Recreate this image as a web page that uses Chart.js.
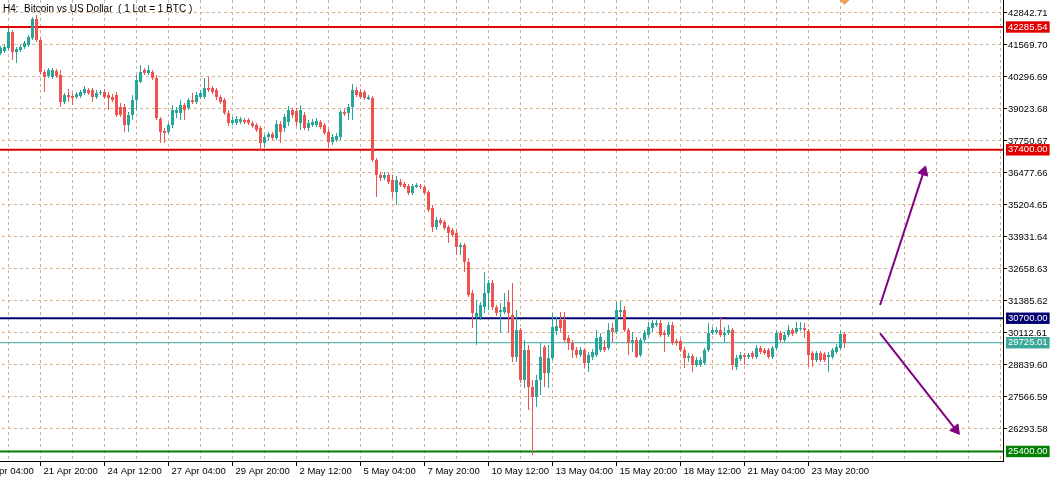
<!DOCTYPE html>
<html>
<head>
<meta charset="utf-8">
<script src="https://cdn.jsdelivr.net/npm/chart.js@4.4.0/dist/chart.umd.min.js"></script>
<style>
  body { margin: 0; background: #fff; }
  #wrap { position: relative; width: 1057px; height: 482px; overflow: hidden; background: #fff; }
  #c { position: absolute; left: -40px; top: 0; }
  #title { position: absolute; left: 3px; top: 3px; font: 10px "Liberation Sans", Arial, sans-serif; line-height: 12px; color: #000; white-space: pre; }
</style>
</head>
<body>
<div id="wrap">
  <canvas id="c" width="1097" height="482"></canvas>
  <div id="title">H4:  Bitcoin vs US Dollar  ( 1 Lot = 1 BTC )</div>
</div>
<script>
// ---------- Data (H4 candles) ----------

// first candle's bar number; bar 0 is 20 Apr 12:00
const firstBar = -2;

const opens = [
  41252, 41331, 41451, 42087, 41291, 41371, 41490, 41570, 41848, 42604,
  41769, 40496, 40337, 40297, 40536, 40377, 39302, 39581, 39541, 39501,
  39541, 39660, 39780, 39780, 39501, 39660, 39700, 39581, 39501, 39581,
  39104, 39104, 38388, 38785, 39382, 40098, 40575, 40456, 40496, 40257,
  38626, 38149, 38109, 38388, 38865, 38865, 39183, 39064, 39382, 39302,
  39501, 39501, 39859, 39859, 39780, 39501, 39382, 38865, 38467, 38467,
  38507, 38586, 38586, 38467, 38388, 38268, 37672, 37910, 38030, 37870,
  38427, 38268, 38507, 38984, 38944, 38467, 38785, 38268, 38388, 38388,
  38507, 38388, 38109, 37711, 37791, 37910, 38905, 38865, 39104, 39780,
  39700, 39700, 39422, 39462, 36995, 36398, 36279, 36398, 36200, 35722,
  36120, 36040, 35961, 35682, 35921, 35961, 35921, 35722, 35086, 34330,
  34608, 34529, 34330, 34211, 34091, 33534, 33614, 32938, 31704, 30750,
  30750, 31148, 31704, 32102, 31148, 30949, 30949, 31346, 30830, 29159,
  30233, 28244, 29437, 27965, 27567, 28244, 29556, 28522, 29119, 30193,
  30630, 30630, 29914, 29715, 29437, 29238, 29437, 28920, 29159, 29238,
  29437, 29556, 29517, 30312, 30153, 30949, 31028, 30233, 29715, 29835,
  29238, 29835, 30034, 30312, 30431, 30511, 30113, 30034, 30431, 29795,
  29795, 29437, 29119, 29198, 28840, 28840, 28920, 29437, 30113, 30153,
  30233, 30034, 30113, 30233, 28761, 29079, 29238, 29159, 29318, 29159,
  29517, 29437, 29437, 29159, 29517, 30113, 29835, 30034, 30233, 30153,
  30272, 30312, 30193, 29318, 29039, 29318, 29278, 29159, 29159, 29357,
  29517, 30074
];

const highs = [
  41530, 41610, 42246, 42167, 41490, 41570, 41729, 41968, 42684, 42763,
  41848, 40575, 40655, 40655, 40615, 40575, 39660, 39820, 39660, 39700,
  39780, 39939, 39859, 39859, 39780, 39780, 39820, 39700, 39621, 39700,
  39263, 39223, 38905, 39581, 40377, 40774, 40655, 40774, 40575, 40377,
  38706, 38268, 38467, 39183, 39104, 39382, 39263, 39462, 39660, 39700,
  39780, 40257, 40297, 39939, 39859, 39581, 39462, 38984, 38706, 38746,
  38706, 38666, 38666, 38547, 38467, 38348, 37990, 38109, 38109, 38586,
  38547, 38825, 39143, 39064, 39064, 39183, 38905, 38586, 38626, 38666,
  38586, 38467, 38228, 38030, 38069, 38984, 39024, 39223, 40019, 39899,
  39820, 39780, 39581, 39541, 37075, 36518, 36518, 36478, 36398, 36359,
  36239, 36120, 36040, 36040, 36080, 36040, 36001, 35802, 35205, 34728,
  34688, 34608, 34409, 34290, 34211, 33693, 33693, 33097, 31824, 31426,
  31346, 32540, 32222, 32222, 31227, 31307, 31704, 31824, 32102, 31028,
  30312, 29835, 29636, 28244, 28443, 29715, 29636, 29636, 30909, 30750,
  30949, 30949, 30034, 29835, 29556, 29556, 29517, 29357, 29477, 30233,
  30113, 29835, 30511, 30511, 31346, 31386, 31187, 30312, 30153, 29954,
  29914, 30233, 30551, 30630, 30630, 30630, 30233, 30551, 30551, 29875,
  29875, 29556, 29318, 29278, 29159, 29159, 29517, 30511, 30352, 30352,
  30710, 30352, 30431, 30312, 29238, 29357, 29318, 29318, 29397, 29636,
  29596, 29517, 29517, 29596, 30233, 30193, 30153, 30431, 30312, 30551,
  30551, 30511, 30272, 29397, 29397, 29397, 29357, 29357, 29517, 29676,
  30233, 30153
];

const lows = [
  41172, 41252, 41371, 40973, 40854, 41291, 41411, 41490, 41769, 41689,
  40416, 39700, 40257, 40217, 40257, 39104, 39223, 39302, 39183, 39422,
  39462, 39581, 39581, 39302, 39422, 39581, 39422, 38984, 39302, 38706,
  38706, 38109, 38109, 38586, 38984, 40058, 40377, 40377, 40178, 38586,
  37672, 37672, 38030, 38268, 38666, 38586, 38586, 38984, 39223, 39223,
  39422, 39422, 39700, 39621, 39382, 39223, 38785, 38348, 38388, 38388,
  38427, 38427, 38388, 38268, 38109, 37393, 37473, 37791, 37791, 37791,
  37672, 38109, 38348, 38666, 38348, 38189, 38189, 38149, 38308, 38308,
  38228, 37990, 37473, 37592, 37711, 37791, 38746, 38586, 38586, 39501,
  39422, 39382, 39382, 36916, 35523, 36160, 36200, 36040, 35484, 35205,
  35921, 35842, 35603, 35603, 35881, 35842, 35603, 34927, 34131, 34211,
  34409, 34211, 33693, 33932, 33216, 33216, 32540, 31545, 30312, 29636,
  30630, 30909, 31028, 31028, 30790, 30113, 30869, 30113, 28960, 28960,
  28124, 27925, 27050, 25260, 27169, 27647, 27965, 27925, 29039, 30034,
  30153, 29755, 29437, 29119, 29119, 29159, 28721, 28562, 29039, 29159,
  29357, 29357, 29437, 29755, 30074, 30710, 30153, 29238, 29357, 29119,
  29159, 29755, 29954, 30153, 30352, 29954, 29357, 29954, 29636, 29596,
  29357, 28721, 28960, 28562, 28761, 28761, 28840, 29357, 30034, 30074,
  29954, 29755, 30034, 28641, 28641, 28999, 28840, 29079, 29079, 29079,
  29278, 29238, 29079, 29079, 29437, 29755, 29755, 29954, 29994, 30074,
  30193, 29914, 28761, 28761, 28960, 28960, 28960, 28562, 29079, 29278,
  29437, 29517
];

const closes = [
  41451, 41490, 42087, 41291, 41411, 41490, 41649, 41888, 42604, 41769,
  40496, 40297, 40575, 40575, 40337, 39302, 39581, 39501, 39462, 39621,
  39700, 39820, 39660, 39501, 39660, 39700, 39501, 39462, 39382, 38785,
  38785, 38388, 38785, 39382, 40178, 40496, 40456, 40575, 40257, 38666,
  38109, 38069, 38388, 38984, 38984, 39183, 38984, 39382, 39302, 39581,
  39660, 39859, 39780, 39700, 39501, 39302, 38865, 38467, 38586, 38626,
  38626, 38507, 38467, 38348, 38189, 37672, 37910, 38030, 37870, 38427,
  38109, 38706, 38984, 38785, 38507, 38984, 38268, 38467, 38507, 38547,
  38308, 38069, 37711, 37910, 37950, 38905, 38825, 39104, 39780, 39581,
  39501, 39462, 39501, 36995, 36398, 36279, 36398, 36120, 35722, 36200,
  36001, 35921, 35682, 35961, 36001, 35921, 35682, 35006, 34330, 34608,
  34489, 34290, 34091, 34012, 33534, 33614, 32938, 31625, 30909, 30909,
  31227, 31704, 32102, 31148, 30909, 31028, 31148, 30909, 29159, 30233,
  28244, 29437, 27965, 27567, 28244, 29159, 28522, 29119, 30352, 30392,
  30312, 29835, 29715, 29437, 29238, 29437, 28920, 29238, 29357, 29914,
  29954, 29437, 30233, 30153, 31028, 31028, 30233, 29715, 29835, 29159,
  29835, 30113, 30352, 30511, 30511, 30034, 30034, 30431, 29715, 29715,
  29437, 29119, 29198, 28840, 29039, 29039, 29437, 30113, 30233, 30233,
  30034, 30113, 30233, 28840, 29119, 29238, 29159, 29238, 29159, 29517,
  29357, 29318, 29159, 29517, 30113, 29835, 30034, 30233, 30074, 30312,
  30312, 30233, 29238, 29039, 29318, 29039, 29039, 29238, 29437, 29556,
  30074, 29725.01
];

// price axis
const yTickValues = [
  42842.71, 41569.70, 40296.69, 39023.68, 37750.67, 36477.66, 35204.65,
  33931.64, 32658.63, 31385.62, 30112.61, 28839.60, 27566.59, 26293.58
];
const yMin = 25020.57;
const yMax = 43359.87;

// horizontal levels (support / resistance, last bid)
const levelValues = [42285.54, 37400.00, 30700.00, 29725.01, 25400.00];

// time axis
const xMin = -12.125;
const xMax = 248.625;
const gridStep = 8;
const xLabelBars = [-8, 8, 24, 40, 56, 72, 88, 104, 120, 136, 152, 168, 184, 200];
const xLabels = [
  '19 Apr 04:00', '21 Apr 20:00', '24 Apr 12:00', '27 Apr 04:00', '29 Apr 20:00',
  '2 May 12:00', '5 May 04:00', '7 May 20:00', '10 May 12:00', '13 May 04:00',
  '15 May 20:00', '18 May 12:00', '21 May 04:00', '23 May 20:00'
];

// drawn objects: two scenario arrows and the trade marker
const arrowUp = [{ x: 217.9, y: 31227 }, { x: 228.8, y: 36530 }];
const arrowDown = [{ x: 217.9, y: 30101 }, { x: 236.8, y: 26270 }];
const marker = [{ x: 209, y: 43359.87 }];

// ---------- Styles ----------

const BULL = '#26a69a';
const BEAR = '#ef5350';
const GRID = '#d4b08e';
const PURPLE = '#800080';
const NONE = 'rgba(0,0,0,0)';
const levelStyle = [
  { color: '#e00000', width: 2 },
  { color: '#e00000', width: 2 },
  { color: '#000070', width: 2 },
  { color: '#3aa79b', width: 1 },
  { color: '#008000', width: 2 }
];

// ---------- Helpers ----------

function levelIndex(ctx) {
  if (!ctx || !ctx.tick) return -1;
  return levelValues.indexOf(ctx.tick.value);
}

function xLabelFor(value) {
  const i = xLabelBars.indexOf(value);
  return i >= 0 ? xLabels[i] : '';
}

function zeroPadding(scale) {
  scale.paddingLeft = 0;
  scale.paddingRight = 0;
  scale.paddingTop = 0;
  scale.paddingBottom = 0;
}

// ---------- Chart ----------

Chart.defaults.font.family = '"Liberation Sans", Arial, sans-serif';
Chart.defaults.font.size = 9.5;
Chart.defaults.color = '#000';

const bars = opens.map((_, i) => firstBar + i);
const candleColors = opens.map((o, i) => (closes[i] >= o ? BULL : BEAR));

const levelSets = levelValues.map((v, i) => ({
  type: 'line',
  data: [{ x: xMin, y: v }, { x: xMax, y: v }],
  borderColor: levelStyle[i].color,
  borderWidth: levelStyle[i].width,
  pointRadius: 0,
  order: 5
}));

function arrowSet(points, angle) {
  return {
    type: 'line',
    data: points,
    borderColor: PURPLE,
    borderWidth: 2,
    pointStyle: 'triangle',
    pointRadius: [0, 6],
    pointRotation: [0, angle],
    pointBackgroundColor: PURPLE,
    pointBorderColor: PURPLE,
    pointBorderWidth: 1,
    order: 0
  };
}

new Chart(document.getElementById('c'), {
  type: 'bar',
  data: {
    datasets: [
      ...levelSets,
      {
        type: 'bar',
        data: bars.map((x, i) => ({ x, y: [lows[i], highs[i]] })),
        backgroundColor: candleColors,
        barThickness: 1,
        grouped: false,
        borderWidth: 0,
        inflateAmount: 0,
        order: 2
      },
      {
        type: 'bar',
        data: bars.map((x, i) => ({ x, y: [opens[i], closes[i]] })),
        backgroundColor: candleColors,
        barThickness: 3,
        grouped: false,
        borderWidth: 0,
        inflateAmount: 0,
        minBarLength: 1,
        order: 1
      },
      arrowSet(arrowUp, 18),
      arrowSet(arrowDown, 142),
      {
        type: 'line',
        data: marker,
        showLine: false,
        pointStyle: 'rectRot',
        pointRadius: 4.5,
        pointBackgroundColor: '#f0a058',
        pointBorderColor: '#f0a058',
        order: 0
      }
    ]
  },
  options: {
    responsive: false,
    animation: false,
    devicePixelRatio: 1,
    layout: { padding: 0, autoPadding: false },
    plugins: {
      legend: { display: false },
      tooltip: { enabled: false },
      title: { display: false }
    },
    scales: {
      x: {
        type: 'linear',
        min: xMin,
        max: xMax,
        offset: false,
        afterBuildTicks: (scale) => {
          const ticks = [];
          for (let v = -8; v <= xMax; v += gridStep) ticks.push({ value: v });
          scale.ticks = ticks;
        },
        afterFit: (scale) => {
          scale.height = 21;
          zeroPadding(scale);
        },
        grid: {
          offset: false,
          color: GRID,
          lineWidth: 1,
          drawTicks: true,
          tickLength: 5,
          tickWidth: 1,
          tickBorderDash: [],
          tickColor: (ctx) => (ctx.tick && xLabelFor(ctx.tick.value) ? '#000' : NONE)
        },
        border: { display: true, color: '#000', width: 1, dash: [3, 3] },
        ticks: {
          autoSkip: false,
          maxRotation: 0,
          minRotation: 0,
          align: 'start',
          padding: 0,
          labelOffset: 3,
          callback: (value) => xLabelFor(value)
        }
      },
      y: {
        type: 'linear',
        position: 'right',
        min: yMin,
        max: yMax,
        afterBuildTicks: (scale) => {
          scale.ticks = yTickValues.concat(levelValues).map((v) => ({ value: v }));
        },
        afterFit: (scale) => {
          scale.width = 54;
          zeroPadding(scale);
        },
        grid: {
          color: (ctx) => (levelIndex(ctx) >= 0 ? NONE : GRID),
          lineWidth: 1,
          drawTicks: true,
          tickLength: 4,
          tickWidth: 1,
          tickBorderDash: [],
          tickColor: (ctx) => (levelIndex(ctx) >= 0 ? NONE : '#000')
        },
        border: { display: true, color: '#000', width: 1, dash: [3, 3] },
        ticks: {
          autoSkip: false,
          padding: 1,
          color: (ctx) => (levelIndex(ctx) >= 0 ? '#fff' : '#000'),
          showLabelBackdrop: (ctx) => levelIndex(ctx) >= 0,
          backdropColor: (ctx) => {
            const i = levelIndex(ctx);
            return i >= 0 ? levelStyle[i].color : NONE;
          },
          backdropPadding: { x: 2, y: 0 },
          callback: (value) => Number(value).toFixed(2)
        }
      }
    }
  }
});
</script>
</body>
</html>
